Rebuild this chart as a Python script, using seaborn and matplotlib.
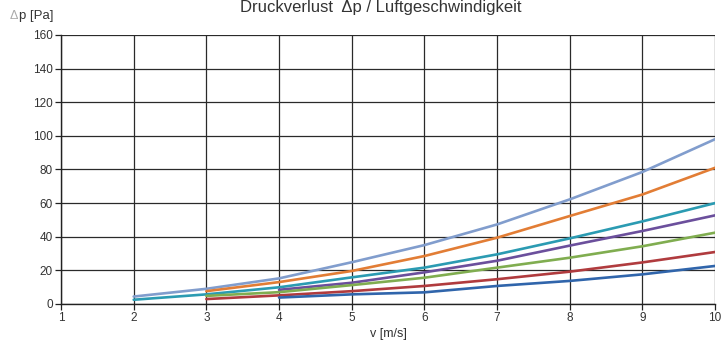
import pandas as pd
import seaborn as sns
import matplotlib.pyplot as plt

# values
v = [2, 3, 4, 5, 6, 7, 8, 9, 10]
s_lightblue = [4.4, 9.0, 15.2, 24.8, 35.0, 47.3, 62.2, 78.5, 98.0]
s_orange = [None, 7.6, 13.0, 19.6, 28.5, 39.4, 52.3, 65.1, 81.0]
s_teal = [2.5, 5.7, 9.9, 15.8, 21.6, 29.5, 39.0, 49.1, 60.0]
s_purple = [None, None, 8.4, 12.6, 18.8, 25.7, 34.7, 43.4, 52.7]
s_green = [None, 4.8, 7.0, 11.2, 15.6, 21.6, 27.5, 34.3, 42.4]
s_red = [None, 2.9, 5.1, 7.6, 10.7, 14.7, 19.2, 24.7, 30.9]
s_blue = [None, None, 3.8, 5.7, 6.9, 10.7, 13.7, 17.6, 22.6]

series = {
    "a": s_lightblue, "b": s_orange, "c": s_teal, "d": s_purple,
    "e": s_green, "f": s_red, "g": s_blue,
}
colors = ["#819dcd", "#e27d35", "#2b9bb2", "#6b4f9c", "#80ad50", "#b03b3e", "#3065ab"]

rows = []
for name, vals in series.items():
    for x, y in zip(v, vals):
        if y is not None:
            rows.append({"v": x, "dp": y, "serie": name})
df = pd.DataFrame(rows)

sns.set_style("white")
plt.rcParams['font.family'] = ['Liberation Sans', 'DejaVu Sans']

fig = plt.figure(figsize=(7.23, 3.45), dpi=100)
ax = fig.add_axes([0.0844, 0.119, 0.9046, 0.7796])

sns.lineplot(data=df, x="v", y="dp", hue="serie", palette=colors,
             linewidth=1.9, legend=False, ax=ax)

ax.set_xlim(1, 10)
ax.set_ylim(0, 160)
ax.set_xticks(range(1, 11))
ax.set_yticks(range(0, 161, 20))
ax.grid(True, color="#2a2a2a", linewidth=0.9)
ax.set_axisbelow(True)
for side in ["top", "right"]:
    ax.spines[side].set_visible(False)
for side in ["left", "bottom"]:
    ax.spines[side].set_color("#222222")
    ax.spines[side].set_linewidth(1.0)
ax.tick_params(axis="both", length=4, width=0.9, color="#222222",
               labelsize=8.5, labelcolor="#333333", pad=2, direction="out")
ax.tick_params(axis="x", bottom=True)
ax.tick_params(axis="y", left=True)

ax.set_xlabel("v [m/s]", fontsize=9, color="#333333", labelpad=3)
ax.set_ylabel("")
fig.text(0.013, 0.953, "\u0394", fontsize=9, color="#aaaaaa", va="center")
fig.text(0.026, 0.953, "p [Pa]", fontsize=9.5, color="#333333", va="center")
fig.text(0.526, 1.0, "Druckverlust  \u0394p / Luftgeschwindigkeit",
         fontsize=12, color="#333333", ha="center", va="top")

fig.savefig("out.png", dpi=100)
